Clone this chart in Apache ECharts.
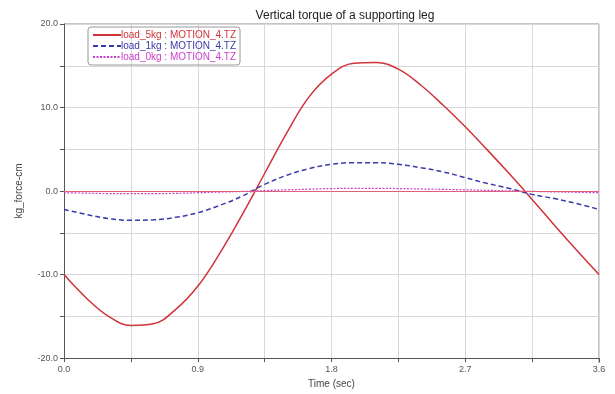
<!DOCTYPE html>
<html><head><meta charset="utf-8">
<script src="https://cdn.jsdelivr.net/npm/echarts@6/dist/echarts.min.js"></script>
<style>html,body{margin:0;padding:0;background:#fff}#c{width:615px;height:394px}</style>
</head><body><div id="c"></div>
<script>
const time = [0,0.15,0.3,0.45,0.6,0.75,0.9,1.05,1.2,1.35,1.5,1.65,1.8,1.95,2.1,2.25,2.4,2.55,2.7,2.85,3.0,3.15,3.3,3.45,3.6];
const load5 = [-10,-12.8,-15.0,-16.1,-15.9,-14.2,-11.4,-7.4,-2.8,2.1,7.0,11.3,14.0,15.3,15.4,14.6,12.7,10.3,7.7,4.9,2.0,-1.0,-4.1,-7.1,-10];
const load1 = [-2.2,-2.8,-3.3,-3.5,-3.45,-3.15,-2.6,-1.7,-0.6,0.8,1.9,2.7,3.2,3.4,3.4,3.2,2.8,2.3,1.6,0.9,0.3,-0.4,-0.9,-1.5,-2.2];
const load0 = [-0.2,-0.25,-0.3,-0.3,-0.3,-0.28,-0.2,-0.12,-0.05,0.05,0.15,0.22,0.3,0.32,0.32,0.3,0.25,0.2,0.15,0.08,0.02,-0.04,-0.1,-0.15,-0.2];
const seriesNames = ['load_5kg : MOTION_4.TZ','load_1kg : MOTION_4.TZ','load_0kg : MOTION_4.TZ'];
const colors = ['#d0343a','#3a3aaa','#cc3ccc'];
const zip = a => time.map((t,i)=>[t,a[i]]);
const chart = echarts.init(document.getElementById('c'));
const font = 'Liberation Sans, Arial, sans-serif';
chart.setOption({
  animation:false,
  textStyle:{fontFamily:font},
  title:{text:'Vertical torque of a supporting leg',left:340,textAlign:'center',top:5,textStyle:{fontSize:12,fontWeight:'normal',color:'#222',fontFamily:font}},
  grid:{left:64,right:16,top:24,bottom:31},
  legend:{
    left:88,top:27,orient:'vertical',itemGap:1,itemWidth:28,itemHeight:8,
    borderColor:'#999',borderWidth:1,borderRadius:3,padding:[3,4,3,4],
    itemStyle:{opacity:0},
    data:seriesNames.map((n,i)=>({name:n,textStyle:{color:colors[i]}})),
    textStyle:{fontSize:10,fontFamily:font,padding:[0,0,0,-5]}
  },
  xAxis:{type:'value',min:0,max:3.6,interval:0.45,
    name:'Time (sec)',nameLocation:'middle',nameGap:18,nameTextStyle:{fontSize:10,color:'#444'},
    axisLine:{show:true,onZero:false,lineStyle:{color:'#555'}},
    axisTick:{show:true,lineStyle:{color:'#555'},length:4},
    axisLabel:{fontSize:9,color:'#555',margin:7,showMaxLabel:true,formatter:v=>Math.round(v/0.45)%2===0?v.toFixed(1):''},
    splitLine:{show:true,lineStyle:{color:'#d8d8d8'}}},
  yAxis:{type:'value',min:-20,max:20,interval:5,
    name:'kg_force-cm',nameLocation:'middle',nameGap:40,nameTextStyle:{fontSize:10,color:'#444'},
    axisLine:{show:true,onZero:false,lineStyle:{color:'#555'}},
    axisTick:{show:true,lineStyle:{color:'#555'},length:4},
    axisLabel:{fontSize:9,color:'#555',margin:6,formatter:v=>v%10===0?v.toFixed(1):''},
    splitLine:{show:true,lineStyle:{color:'#d8d8d8'}}},
  series:[
    {name:seriesNames[0],type:'line',smooth:0.4,symbol:'none',data:zip(load5),color:colors[0],lineStyle:{width:1.5,color:colors[0]},
      markLine:{silent:true,symbol:'none',label:{show:false},lineStyle:{color:'#e0607a',type:'solid',width:1},data:[{yAxis:0}]}},
    {name:seriesNames[1],type:'line',smooth:0.4,symbol:'none',data:zip(load1),color:colors[1],lineStyle:{width:1.5,type:[5,3],color:colors[1]}},
    {name:seriesNames[2],type:'line',smooth:0.4,symbol:'none',data:zip(load0),color:colors[2],lineStyle:{width:1.2,type:[2,1.5],color:colors[2]}}
  ],
  graphic:[
    {type:'line',shape:{x1:64,y1:24,x2:599,y2:24},style:{stroke:'#888',lineWidth:1}},
    {type:'line',shape:{x1:599,y1:24,x2:599,y2:363},style:{stroke:'#888',lineWidth:1}}
  ]
});
</script></body></html>
